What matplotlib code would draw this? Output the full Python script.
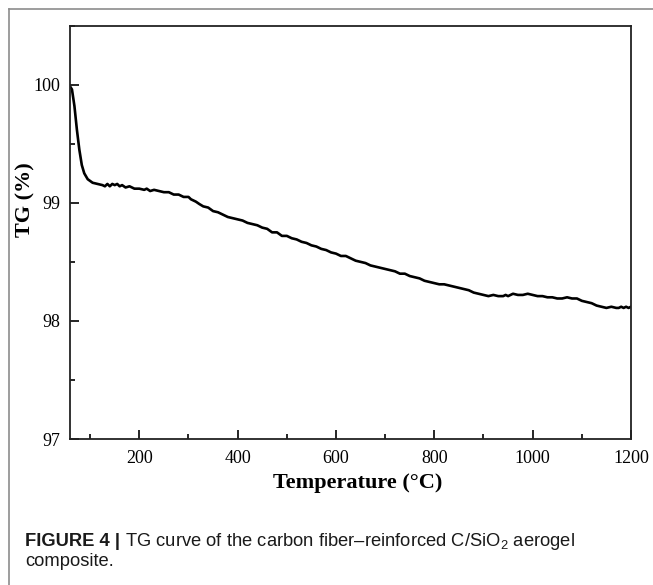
import matplotlib.pyplot as plt
from matplotlib.lines import Line2D
from matplotlib.ticker import MultipleLocator

## TG data
temperature = [60, 63, 68, 73, 78, 83, 88, 95, 105, 115, 125, 130, 135, 140, 145, 150, 155,
               160, 165, 172, 180, 190, 200, 210, 215, 222, 230, 240, 250, 260, 270, 280,
               290, 300, 305, 315, 322, 330, 340, 350, 360, 370, 380, 390, 400, 410, 420,
               430, 440, 450, 460, 470, 480, 490, 500, 510, 520, 530, 540, 550, 560, 570,
               580, 590, 600, 610, 620, 630, 640, 650, 660, 670, 680, 690, 700, 710, 720,
               730, 740, 750, 760, 770, 780, 790, 800, 810, 820, 830, 840, 850, 860, 870,
               880, 890, 900, 910, 920, 930, 940, 945, 950, 960, 970, 980, 990, 1000, 1010,
               1020, 1030, 1040, 1050, 1060, 1070, 1080, 1090, 1095, 1100, 1110, 1120, 1130,
               1140, 1150, 1160, 1170, 1175, 1180, 1185, 1190, 1195, 1200]
tg = [99.98, 99.96, 99.82, 99.62, 99.45, 99.32, 99.25, 99.20, 99.17, 99.16, 99.15, 99.14,
      99.16, 99.14, 99.16, 99.15, 99.16, 99.14, 99.15, 99.13, 99.14, 99.12, 99.12, 99.11,
      99.12, 99.10, 99.11, 99.10, 99.09, 99.09, 99.07, 99.07, 99.05, 99.05, 99.03, 99.01,
      98.99, 98.97, 98.96, 98.93, 98.92, 98.90, 98.88, 98.87, 98.86, 98.85, 98.83, 98.82,
      98.81, 98.79, 98.78, 98.75, 98.75, 98.72, 98.72, 98.70, 98.69, 98.67, 98.66, 98.64,
      98.63, 98.61, 98.60, 98.58, 98.57, 98.55, 98.55, 98.53, 98.51, 98.50, 98.49, 98.47,
      98.46, 98.45, 98.44, 98.43, 98.42, 98.40, 98.40, 98.38, 98.37, 98.36, 98.34, 98.33,
      98.32, 98.31, 98.31, 98.30, 98.29, 98.28, 98.27, 98.26, 98.24, 98.23, 98.22, 98.21,
      98.22, 98.21, 98.21, 98.22, 98.21, 98.23, 98.22, 98.22, 98.23, 98.22, 98.21, 98.21,
      98.20, 98.20, 98.19, 98.19, 98.20, 98.19, 98.19, 98.18, 98.17, 98.16, 98.15, 98.13,
      98.12, 98.11, 98.12, 98.11, 98.11, 98.12, 98.11, 98.12, 98.11, 98.12]

x_major = [200, 400, 600, 800, 1000, 1200]
y_major = [97, 98, 99, 100]

caption_bold = "FIGURE 4 |"
caption_rest = " TG curve of the carbon fiber\u2013reinforced C/SiO$_\\mathregular{2}$ aerogel"
caption_line2 = "composite."

plt.rcParams['mathtext.fontset'] = 'custom'
plt.rcParams['mathtext.rm'] = 'Liberation Sans'

fig = plt.figure(figsize=(6.53, 5.85), dpi=100)
ax = fig.add_axes([70/653, 1 - 439/585, 561/653, 413.3/585])

ax.plot(temperature, tg, color='black', linewidth=1.9)

ax.set_xlim(59, 1200)
ax.set_ylim(97, 100.5)
ax.set_xticks(x_major)
ax.set_yticks(y_major)
ax.xaxis.set_minor_locator(MultipleLocator(100))
ax.yaxis.set_minor_locator(MultipleLocator(0.5))
ax.tick_params(which='both', direction='in', top=False, right=False, width=1.2)
ax.tick_params(which='major', length=6.5)
ax.tick_params(which='minor', length=3.6)
ax.tick_params(axis='x', pad=8)
ax.tick_params(axis='y', pad=7)
for lab in ax.get_xticklabels() + ax.get_yticklabels():
    lab.set_fontfamily('Liberation Serif')
    lab.set_fontsize(13)
for sp in ax.spines.values():
    sp.set_linewidth(1.3)
    sp.set_color('#222222')

## axis labels
ax.set_xlabel("Temperature (\u00b0C)", fontfamily='Liberation Serif', fontweight='bold', fontsize=16)
ax.xaxis.label.set_va('center')
ax.xaxis.set_label_coords(0.513, -0.106)
ax.set_ylabel("TG (%)", fontfamily='Liberation Serif', fontweight='bold', fontsize=16)
ax.yaxis.label.set_va('center')
ax.yaxis.set_label_coords(-0.080, 0.578)

## grey frame
fig.add_artist(Line2D([8.5/653, 8.5/653], [0, 1 - 8.5/585], transform=fig.transFigure, color='#8c8c8c', linewidth=1.2))
fig.add_artist(Line2D([8.5/653, 1], [1 - 8.5/585, 1 - 8.5/585], transform=fig.transFigure, color='#8c8c8c', linewidth=1.2))

## caption
t1 = fig.text(25/653, 1 - 541.7/585, caption_bold, fontfamily='Liberation Sans', fontweight='bold',
              fontsize=13.2, color='#1a1a1a', va='center')
fig.canvas.draw()
bb = t1.get_window_extent(fig.canvas.get_renderer())
fig.text(bb.x1/653, 1 - 541.7/585, caption_rest, fontfamily='Liberation Sans', fontsize=13.2,
         color='#1a1a1a', va='center')
fig.text(25/653, 1 - 562/585, caption_line2, fontfamily='Liberation Sans', fontsize=13.2,
         color='#1a1a1a', va='center')

plt.savefig('out.png', dpi=100)
